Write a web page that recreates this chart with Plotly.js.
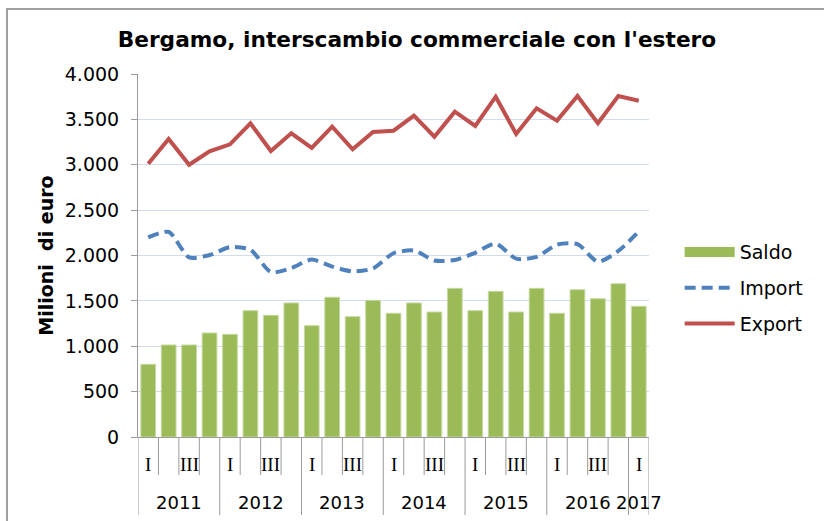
<!DOCTYPE html>
<html>
<head>
<meta charset="utf-8">
<script src="https://cdn.plot.ly/plotly-3.0.1.min.js"></script>
<style>html,body{margin:0;padding:0;background:#fff;}#chart{width:824px;height:521px;}</style>
</head>
<body>
<div id="chart"></div>
<script>
// ---- data ----
const years = ['2011','2012','2013','2014','2015','2016','2017'];
const quarterLabels = ['I','II','III','IV','I','II','III','IV','I','II','III','IV','I','II','III','IV','I','II','III','IV','I','II','III','IV','I'];
const quarterYear = ['2011','2011','2011','2011','2012','2012','2012','2012','2013','2013','2013','2013','2014','2014','2014','2014','2015','2015','2015','2015','2016','2016','2016','2016','2017'];
const saldo = [801,1014,1014,1146,1131,1392,1341,1477,1227,1540,1326,1506,1363,1477,1377,1638,1392,1605,1377,1638,1363,1623,1524,1689,1440];
const importV = [2200,2260,1980,2005,2092,2063,1818,1862,1955,1878,1825,1858,2025,2055,1945,1950,2030,2130,1965,1985,2120,2125,1932,2050,2265];
const exportV = [3010,3284,3000,3148,3225,3457,3152,3346,3185,3419,3170,3361,3375,3541,3309,3585,3427,3750,3339,3622,3486,3758,3457,3758,3706];

const idx = quarterLabels.map((_, i) => i);
const FONT = 'DejaVu Sans, Verdana, sans-serif';
const GREEN = '#9BBB59';

const traces = [
  {type:'bar', name:'Saldo', x: idx, y: saldo, showlegend:false,
   marker:{color:GREEN, line:{color:'#c6d9a0', width:1}}},
  // legend swatch for Saldo (wide rectangle, as in the original legend)
  {type:'scatter', mode:'lines', name:'Saldo', x:[0], y:[null], legendgroup:'a', showlegend:true,
   line:{color:GREEN, width:11}},
  {type:'scatter', mode:'lines', name:'Import', x: idx, y: importV, legendgroup:'b',
   line:{color:'#4F81BD', width:4, dash:'11px,6px', shape:'spline', smoothing:0.7}},
  {type:'scatter', mode:'lines', name:'Export', x: idx, y: exportV, legendgroup:'c',
   line:{color:'#C0504D', width:4}}
];

const shapes = [];
const annotations = [];
const plotH = 363;
// category boundaries
for (let k = 0; k <= quarterLabels.length; k++) {
  const isYear = k === 0 || k === quarterLabels.length || quarterYear[k] !== quarterYear[k-1];
  shapes.push({type:'line', xref:'x', yref:'paper', x0:k-0.5, x1:k-0.5, y0:0,
    y1: isYear ? -78/plotH : -38/plotH, line:{color:'#9a9a9a', width:1}});
}
// inner labels (every second one, as in the original)
quarterLabels.forEach((q, i) => {
  if (i % 2 === 0) {
    annotations.push({xref:'x', yref:'paper', x:i, y:-28/plotH, yanchor:'middle', showarrow:false,
      text:q, font:{family:'Liberation Serif, Times New Roman, serif', size:19, color:'#000'}});
  }
});
// year labels
years.forEach(y => {
  const members = idx.filter(i => quarterYear[i] === y);
  const c = (members[0] + members[members.length-1]) / 2;
  annotations.push({xref:'x', yref:'paper', x:c, y:-65/plotH, yanchor:'middle', showarrow:false,
    text:y, font:{family:FONT, size:18, color:'#000'}});
});
// outer chart border
shapes.push({type:'rect', xref:'paper', yref:'paper', x0:(7-138)/511, x1:2, y0:-1, y1:(437-9)/plotH,
  line:{color:'#a0a0a0', width:2}, fillcolor:'rgba(0,0,0,0)'});

const layout = {
  width:824, height:521,
  margin:{l:138, r:175, t:74, b:84},
  paper_bgcolor:'#fff', plot_bgcolor:'#fff',
  separators:',.',
  showlegend:true,
  bargap:0.28,
  title:{text:"Bergamo, interscambio commerciale con l'estero", x:0.506, xref:'container', y:0.925, yref:'container',
    xanchor:'center', yanchor:'middle', font:{family:FONT, size:21.7, color:'#000', weight:'bold'}},
  xaxis:{range:[-0.5, 24.5], showticklabels:false, ticks:'', showgrid:false, zeroline:false,
    showline:true, linecolor:'#9a9a9a', linewidth:1, fixedrange:true},
  yaxis:{range:[0,4000], dtick:500, tickformat:',.0f', ticks:'outside', ticklen:6, tickcolor:'#9a9a9a',
    ticklabelstandoff:8,
    showline:true, linecolor:'#9a9a9a', linewidth:1, gridcolor:'#d3dcee', gridwidth:1, zeroline:false,
    tickfont:{family:FONT, size:19, color:'#000'},
    title:{text:'Milioni  di euro', standoff:6, font:{family:FONT, size:19, color:'#000', weight:'bold'}}},
  legend:{x:1.06, xanchor:'left', y:0.41, yanchor:'middle', tracegroupgap:8, itemwidth:50,
    font:{family:FONT, size:19, color:'#000'}, bgcolor:'rgba(0,0,0,0)'},
  shapes:shapes,
  annotations:annotations
};

Plotly.newPlot('chart', traces, layout, {displayModeBar:false, staticPlot:true});
</script>
</body>
</html>
